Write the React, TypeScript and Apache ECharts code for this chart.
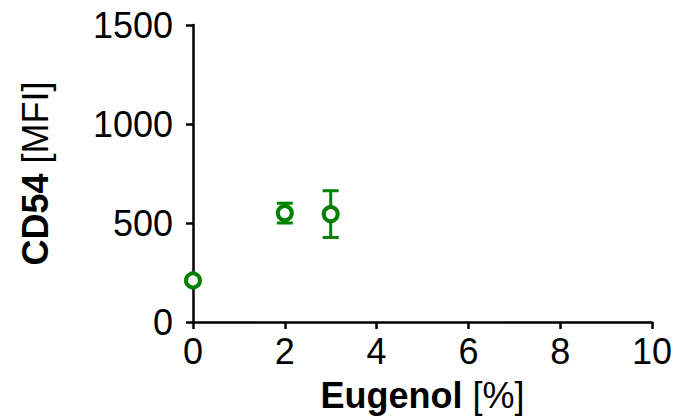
import React, { useEffect, useRef } from "react";
import * as echarts from "echarts";

const xValues = [0, 2, 3];
const yValues = [210, 550, 545];
const yErrors = [0, 50, 118];
const xTicks = [0, 2, 4, 6, 8, 10];
const yTicks = [0, 500, 1000, 1500];

const GREEN = "#008000";
const FONT = "'Liberation Sans', Arial, sans-serif";
const FS = 36;

export default function App() {
  const ref = useRef<HTMLDivElement>(null);
  useEffect(() => {
    if (!ref.current) return;
    const chart = echarts.init(ref.current, undefined, { renderer: "svg" });
    const points = xValues.map((x, i) => [x, yValues[i]]);
    const errs = xValues.map((x, i) => [x, yValues[i] - yErrors[i], yValues[i] + yErrors[i]]);
    const rich = {
      b: { fontFamily: FONT, fontSize: FS, fontWeight: "bold", color: "#000" },
      n: { fontFamily: FONT, fontSize: FS, color: "#000" },
    };
    chart.setOption({
      animation: false,
      backgroundColor: "#fff",
      grid: { left: 193, right: 30, top: 25, bottom: 97, containLabel: false },
      xAxis: {
        type: "value",
        min: xTicks[0],
        max: xTicks[xTicks.length - 1],
        interval: 2,
        name: "{b|Eugenol}{n| [%]}",
        nameLocation: "middle",
        nameGap: 55,
        nameTextStyle: { rich },
        axisLine: { show: true, lineStyle: { color: "#000", width: 2.5 } },
        axisTick: { show: true, length: 7, lineStyle: { color: "#000", width: 2.5 } },
        axisLabel: { fontFamily: FONT, fontSize: FS, color: "#000", margin: 11, formatter: (v: number) => String(v) },
        splitLine: { show: false },
      },
      yAxis: {
        type: "value",
        min: yTicks[0],
        max: yTicks[yTicks.length - 1],
        interval: 500,
        name: "{b|CD54}{n| [MFI]}",
        nameLocation: "middle",
        nameGap: 140,
        nameRotate: 90,
        nameTextStyle: { rich },
        axisLine: { show: true, lineStyle: { color: "#000", width: 2.5 } },
        axisTick: { show: true, length: 7, lineStyle: { color: "#000", width: 2.5 } },
        axisLabel: { fontFamily: FONT, fontSize: FS, color: "#000", margin: 20, formatter: (v: number) => String(v) },
        splitLine: { show: false },
      },
      series: [
        {
          type: "custom",
          data: errs,
          z: 2,
          renderItem: (params: any, api: any) => {
            const x = api.value(0);
            const lo = api.coord([x, api.value(1)]);
            const hi = api.coord([x, api.value(2)]);
            const hw = 8;
            const style = { stroke: GREEN, lineWidth: 3, fill: "none" };
            if (Math.abs(hi[1] - lo[1]) < 1) return { type: "group", children: [] };
            return {
              type: "group",
              children: [
                { type: "line", shape: { x1: lo[0], y1: lo[1], x2: hi[0], y2: hi[1] }, style },
                { type: "line", shape: { x1: lo[0] - hw, y1: lo[1], x2: lo[0] + hw, y2: lo[1] }, style },
                { type: "line", shape: { x1: hi[0] - hw, y1: hi[1], x2: hi[0] + hw, y2: hi[1] }, style },
              ],
            };
          },
        },
        {
          type: "scatter",
          data: points,
          z: 3,
          symbol: "circle",
          symbolSize: 14,
          itemStyle: { color: "#fff", borderColor: GREEN, borderWidth: 4, opacity: 1 },
        },
      ],
    });
    return () => chart.dispose();
  }, []);
  return <div ref={ref} style={{ width: 682, height: 419, position: "absolute", left: 0, top: 0 }} />;
}
